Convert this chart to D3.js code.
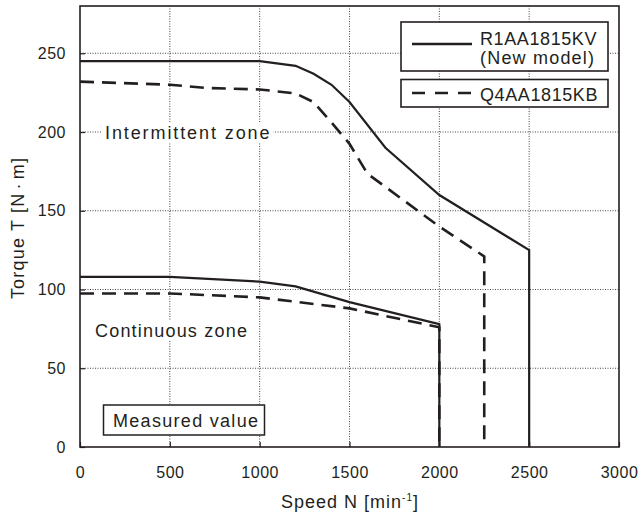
<!DOCTYPE html>
<html><head><meta charset="utf-8">
<script src="https://cdn.jsdelivr.net/npm/d3@7"></script>
<style>
body{margin:0;background:#fff;}
text{font-family:"Liberation Sans",Arial,sans-serif;fill:#231f20;}
</style></head>
<body><svg id="c" width="640" height="515"></svg>
<script>
const speedTicks = [0,500,1000,1500,2000,2500,3000];
const torqueTicks = [0,50,100,150,200,250];

const r1IntSpeed  = [0,1000,1200,1300,1400,1500,1700,2000,2500,2500];
const r1IntTorque = [245,245,242,237,230,219,190,160,125,0];
const q4IntSpeed  = [0,500,700,1000,1200,1300,1400,1500,1600,2000,2250,2250];
const q4IntTorque = [232,230,228,227,224.5,219,206,192.5,173.5,140,121,0];
const r1ContSpeed  = [0,500,1000,1200,1500,2000,2000];
const r1ContTorque = [108,108,105,102,92,78,0];
const q4ContSpeed  = [0,500,1000,1500,2000,2000];
const q4ContTorque = [97.5,97.5,95,88,76,0];

const seriesNames = ["R1AA1815KV","(New model)","Q4AA1815KB"];
const zoneLabels = ["Intermittent zone","Continuous zone","Measured value"];

const svg = d3.select("#c");
const L=80, R=619, T=6, B=447;
const x = d3.scaleLinear().domain([0,3000]).range([L,R]);
const y = d3.scaleLinear().domain([0,280]).range([B,T]);
const ink = "#231f20";

// gridlines
const grid = svg.append("g");
grid.selectAll("line.v").data(speedTicks.filter(d=>d>0&&d<3000)).join("line")
  .attr("x1",d=>x(d)).attr("x2",d=>x(d)).attr("y1",T).attr("y2",B)
  .attr("stroke","#444").attr("stroke-width",1).attr("stroke-dasharray","1,1.5");
grid.selectAll("line.h").data(torqueTicks.filter(d=>d>0)).join("line")
  .attr("y1",d=>y(d)).attr("y2",d=>y(d)).attr("x1",L).attr("x2",R)
  .attr("stroke","#444").attr("stroke-width",1).attr("stroke-dasharray","1,1.5");

// axes
const xAxis = svg.append("g").attr("transform",`translate(0,${B})`)
  .call(d3.axisBottom(x).tickValues(speedTicks).tickSize(-5).tickPadding(14).tickFormat(d3.format("d")));
const yAxis = svg.append("g").attr("transform",`translate(${L},0)`)
  .call(d3.axisLeft(y).tickValues(torqueTicks).tickSize(-5).tickPadding(14).tickFormat(d3.format("d")));
[xAxis,yAxis].forEach(a=>{
  a.select(".domain").remove();
  a.selectAll(".tick line").attr("stroke",ink).attr("stroke-width",1.2);
  a.selectAll(".tick text").attr("font-size",16).attr("letter-spacing",0.5)
   .attr("font-family","Liberation Sans, Arial, sans-serif").attr("fill",ink);
});
xAxis.selectAll(".tick text").attr("dy","0.71em").attr("y",20);
// frame
svg.append("rect").attr("x",L).attr("y",T).attr("width",R-L).attr("height",B-T)
  .attr("fill","none").attr("stroke",ink).attr("stroke-width",1.6);

// zone labels with white background
function boxedLabel(txt, tx, ty, ls, withBorder){
  const g = svg.append("g");
  const t = g.append("text").attr("x",tx).attr("y",ty).attr("font-size",18)
    .attr("letter-spacing",ls).text(txt);
  const bb = t.node().getBBox();
  if(withBorder){
    g.insert("rect","text").attr("x",103.5).attr("y",405).attr("width",161).attr("height",30)
      .attr("fill","#fff").attr("stroke",ink).attr("stroke-width",1.5);
  } else {
    g.insert("rect","text").attr("x",bb.x-4).attr("y",bb.y).attr("width",bb.width+6).attr("height",bb.height)
      .attr("fill","#fff");
  }
}
boxedLabel(zoneLabels[0],105,139,1.9,false);
boxedLabel(zoneLabels[1],95,337,1.2,false);
boxedLabel(zoneLabels[2],113,427,1.3,true);

// curves
const line = d3.line().x(d=>x(d[0])).y(d=>y(d[1]));
function draw(sp,tq,dashed){
  svg.append("path").datum(d3.zip(sp,tq)).attr("d",line)
    .attr("fill","none").attr("stroke",ink)
    .attr("stroke-width",dashed?2.6:2.2)
    .attr("stroke-dasharray",dashed?"14,8":null)
    .attr("stroke-linejoin","miter");
}
draw(q4IntSpeed,q4IntTorque,true);
draw(q4ContSpeed,q4ContTorque,true);
draw(r1IntSpeed,r1IntTorque,false);
draw(r1ContSpeed,r1ContTorque,false);

// legend
const lg = svg.append("g");
lg.append("rect").attr("x",401).attr("y",22).attr("width",207).attr("height",49)
  .attr("fill","#fff").attr("stroke",ink).attr("stroke-width",1.6);
lg.append("rect").attr("x",401).attr("y",79.5).attr("width",207).attr("height",27.5)
  .attr("fill","#fff").attr("stroke",ink).attr("stroke-width",1.6);
lg.append("line").attr("x1",412).attr("x2",472).attr("y1",44).attr("y2",44)
  .attr("stroke",ink).attr("stroke-width",2.4);
lg.append("line").attr("x1",412).attr("x2",472).attr("y1",93).attr("y2",93)
  .attr("stroke",ink).attr("stroke-width",2.6).attr("stroke-dasharray","13,10");
lg.append("text").attr("x",480).attr("y",45).attr("font-size",18).attr("letter-spacing",0.6).text(seriesNames[0]);
lg.append("text").attr("x",480).attr("y",64).attr("font-size",18).attr("letter-spacing",1.2).text(seriesNames[1]);
lg.append("text").attr("x",480).attr("y",101).attr("font-size",18).attr("letter-spacing",0.6).text(seriesNames[2]);

// axis titles
const xt = svg.append("text").attr("x",350).attr("y",508).attr("text-anchor","middle")
  .attr("font-size",18).attr("letter-spacing",1);
xt.append("tspan").text("Speed N [min");
xt.append("tspan").attr("font-size",10).attr("dy",-7).text("-1");
xt.append("tspan").attr("dy",7).text("]");
const yt = svg.append("text").attr("transform","translate(24,228) rotate(-90)").attr("text-anchor","middle")
  .attr("font-size",18).attr("letter-spacing",1.2);
yt.append("tspan").text("Torque T [N");
yt.append("tspan").attr("dx",3).text("·");
yt.append("tspan").attr("dx",3).text("m]");
</script></body></html>
